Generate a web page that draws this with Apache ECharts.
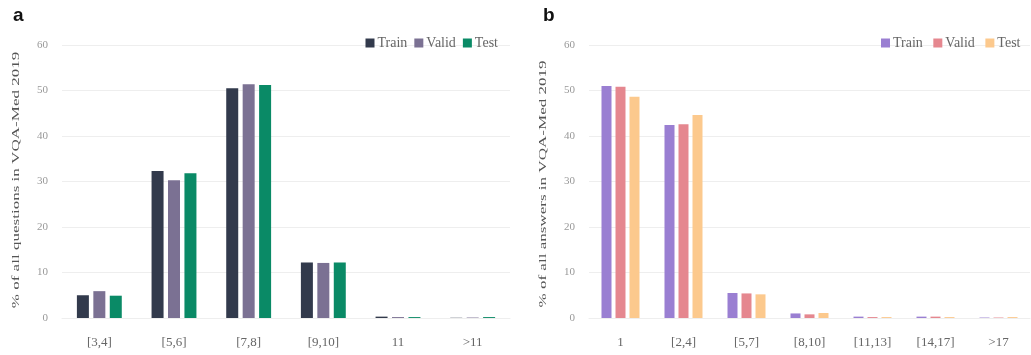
<!DOCTYPE html>
<html>
<head>
<meta charset="utf-8">
<script src="https://cdn.jsdelivr.net/npm/echarts@6/dist/echarts.min.js"></script>
<style>
  html, body { margin: 0; padding: 0; background: #fff; }
  #chart { width: 1031px; height: 355px; }
</style>
</head>
<body>
<div id="chart"></div>
<script>
// Panel a: question length distribution
const qCategories = ['[3,4]', '[5,6]', '[7,8]', '[9,10]', '11', '>11'];
const qTrain = [5.0, 32.3, 50.5, 12.2, 0.3, 0.05];
const qValid = [5.9, 30.3, 51.4, 12.1, 0.2, 0.1];
const qTest  = [4.9, 31.8, 51.2, 12.2, 0.2, 0.2];

// Panel b: answer length distribution
const aCategories = ['1', '[2,4]', '[5,7]', '[8,10]', '[11,13]', '[14,17]', '>17'];
const aTrain = [51.0, 42.4, 5.5, 1.0, 0.3, 0.3, 0.1];
const aValid = [50.8, 42.6, 5.4, 0.8, 0.2, 0.3, 0.1];
const aTest  = [48.6, 44.6, 5.2, 1.1, 0.2, 0.2, 0.2];

const yTicks = [0, 10, 20, 30, 40, 50, 60];

const qAxisTitle = '% of all questions in VQA-Med 2019';
const aAxisTitle = '% of all answers in VQA-Med 2019';

const serif = '"Liberation Serif", "DejaVu Serif", serif';

function valueAxis(gridIndex) {
  return {
    type: 'value', gridIndex, min: yTicks[0], max: yTicks[yTicks.length - 1], interval: 10,
    axisLabel: { fontFamily: serif, fontSize: 11, color: '#999', margin: 14 },
    axisLine: { show: false }, axisTick: { show: false },
    splitLine: { lineStyle: { color: '#eeeeee', width: 1 } }
  };
}
function catAxis(gridIndex, data) {
  return {
    type: 'category', gridIndex, data,
    axisLabel: { fontFamily: serif, fontSize: 13, color: '#666', margin: 18 },
    axisLine: { lineStyle: { color: '#eeeeee' } }, axisTick: { show: false }
  };
}
function bars(name, data, color, idx, width, gap) {
  return {
    type: 'bar', name, data, xAxisIndex: idx, yAxisIndex: idx,
    barWidth: width, barGap: gap, itemStyle: { color }
  };
}
// Rotated axis title, stretched along its length
function axisTitle(text, x, y) {
  return {
    type: 'text', x, y, rotation: Math.PI / 2, scaleX: 1.55, scaleY: 1,
    style: { text, fontFamily: serif, fontSize: 11, fill: '#555', align: 'center', verticalAlign: 'middle' }
  };
}

const legendStyle = {
  icon: 'rect', top: 31, itemWidth: 9, itemHeight: 9, itemGap: 7,
  textStyle: { fontFamily: serif, fontSize: 14, color: '#666', padding: [0, 0, 0, -2] }
};

const chart = echarts.init(document.getElementById('chart'), null, { renderer: 'canvas' });
chart.setOption({
  animation: false,
  backgroundColor: '#ffffff',
  title: [
    { text: 'a', left: 8, top: 1, textStyle: { fontFamily: 'Liberation Sans, Arial', fontSize: 19, fontWeight: 'bold', color: '#111' } },
    { text: 'b', left: 538, top: 1, textStyle: { fontFamily: 'Liberation Sans, Arial', fontSize: 19, fontWeight: 'bold', color: '#111' } }
  ],
  legend: [
    Object.assign({ data: ['Train', 'Valid', 'Test'], right: 528 }, legendStyle),
    Object.assign({ data: ['Train ', 'Valid ', 'Test '], right: 2 }, legendStyle)
  ],
  graphic: [
    axisTitle(qAxisTitle, 16, 180),
    axisTitle(aAxisTitle, 543, 184)
  ],
  grid: [
    { left: 62, right: 521, top: 45, bottom: 37 },
    { left: 589, right: 1, top: 45, bottom: 37 }
  ],
  xAxis: [catAxis(0, qCategories), catAxis(1, aCategories)],
  yAxis: [valueAxis(0), valueAxis(1)],
  series: [
    bars('Train', qTrain, '#323a4c', 0, 12, '37%'),
    bars('Valid', qValid, '#7b7193', 0, 12, '37%'),
    bars('Test',  qTest,  '#0a8a66', 0, 12, '37%'),
    bars('Train ', aTrain, '#9a7fd2', 1, 10, '40%'),
    bars('Valid ', aValid, '#e5878f', 1, 10, '40%'),
    bars('Test ',  aTest,  '#fcc98d', 1, 10, '40%')
  ]
});
</script>
</body>
</html>
